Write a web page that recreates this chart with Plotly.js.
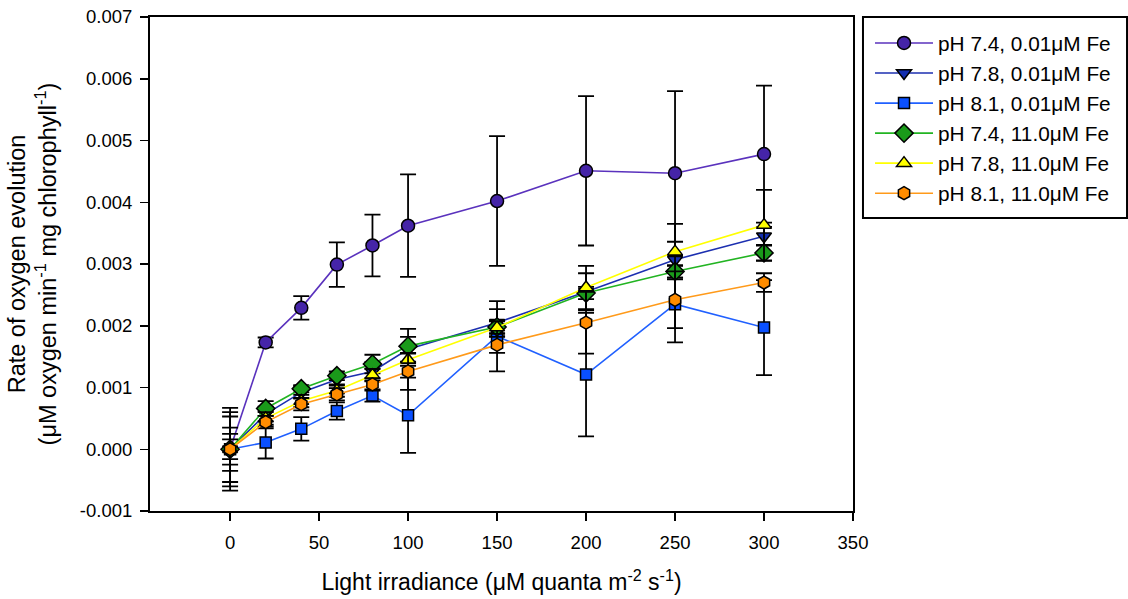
<!DOCTYPE html>
<html>
<head>
<meta charset="utf-8">
<script src="https://cdn.plot.ly/plotly-3.0.1.min.js"></script>
<style>
  html, body { margin: 0; padding: 0; background: #fff; }
  #chart { width: 1128px; height: 599px; }
</style>
</head>
<body>
<div id="chart"></div>
<script>
// Light irradiance levels (µM quanta m-2 s-1)
const irradiance = [0, 20, 40, 60, 80, 100, 150, 200, 250, 300];

// Series labels
const seriesNames = [
  'pH 7.4, 0.01\u03bcM Fe',
  'pH 7.8, 0.01\u03bcM Fe',
  'pH 8.1, 0.01\u03bcM Fe',
  'pH 7.4, 11.0\u03bcM Fe',
  'pH 7.8, 11.0\u03bcM Fe',
  'pH 8.1, 11.0\u03bcM Fe'
];

// Mean rate of oxygen evolution for each series
const ph74_low  = [0.00000, 0.00173, 0.00229, 0.00299, 0.00330, 0.00362, 0.00402, 0.00451, 0.00447, 0.00478];
const ph78_low  = [0.00000, 0.00057, 0.00092, 0.00113, 0.00126, 0.00162, 0.00205, 0.00255, 0.00307, 0.00345];
const ph81_low  = [0.00000, 0.00011, 0.00033, 0.00062, 0.00087, 0.00055, 0.00183, 0.00121, 0.00235, 0.00197];
const ph74_high = [0.00000, 0.00066, 0.00098, 0.00119, 0.00138, 0.00167, 0.00198, 0.00253, 0.00288, 0.00318];
const ph78_high = [0.00000, 0.00050, 0.00078, 0.00095, 0.00120, 0.00145, 0.00197, 0.00262, 0.00320, 0.00363];
const ph81_high = [0.00000, 0.00044, 0.00073, 0.00089, 0.00105, 0.00126, 0.00169, 0.00205, 0.00242, 0.00270];

// Error bar half-lengths for each series
const ph74_low_err  = [0.00067, 0.00008, 0.00019, 0.00036, 0.00050, 0.00083, 0.00105, 0.00121, 0.00133, 0.00111];
const ph78_low_err  = [0.00060, 0.00012, 0.00010, 0.00010, 0.00015, 0.00020, 0.00022, 0.00030, 0.00029, 0.00015];
const ph81_low_err  = [0.00053, 0.00026, 0.00019, 0.00014, 0.00010, 0.00061, 0.00057, 0.00100, 0.00062, 0.00077];
const ph74_high_err = [0.00035, 0.00012, 0.00006, 0.00007, 0.00015, 0.00028, 0.00010, 0.00010, 0.00010, 0.00013];
const ph78_high_err = [0.00025, 0.00010, 0.00010, 0.00010, 0.00010, 0.00010, 0.00010, 0.00035, 0.00045, 0.00057];
const ph81_high_err = [0.00016, 0.00010, 0.00010, 0.00010, 0.00010, 0.00030, 0.00013, 0.00050, 0.00046, 0.00015];

const FONT = 'Arial, "Liberation Sans", sans-serif';

const styles = [
  { line: '#5a32bd', fill: '#4524a8', symbol: 'circle',        size: 13 },
  { line: '#1c2fb0', fill: '#1530b0', symbol: 'triangle-down', size: 13 },
  { line: '#2060ff', fill: '#0a50ff', symbol: 'square',        size: 11 },
  { line: '#22b422', fill: '#1a9a1a', symbol: 'diamond',       size: 14 },
  { line: '#ffff00', fill: '#ffff00', symbol: 'triangle-up',   size: 13 },
  { line: '#ff9a1a', fill: '#ff8c00', symbol: 'hexagon',       size: 13 }
];

const means = [ph74_low, ph78_low, ph81_low, ph74_high, ph78_high, ph81_high];
const errs  = [ph74_low_err, ph78_low_err, ph81_low_err, ph74_high_err, ph78_high_err, ph81_high_err];

const traces = means.map((y, i) => ({
  type: 'scatter',
  mode: 'lines+markers',
  name: seriesNames[i],
  x: irradiance,
  y: y,
  line: { color: styles[i].line, width: 1.6 },
  marker: {
    symbol: styles[i].symbol,
    size: styles[i].size,
    color: styles[i].fill,
    line: { color: '#000', width: 1.5 }
  },
  error_y: {
    type: 'data',
    array: errs[i],
    visible: true,
    color: '#000',
    thickness: 1.8,
    width: 8
  }
}));

const layout = {
  width: 1128,
  height: 599,
  margin: { l: 150, r: 275, t: 17, b: 88 },
  paper_bgcolor: '#fff',
  plot_bgcolor: '#fff',
  font: { family: FONT, color: '#000', size: 18 },
  showlegend: true,
  legend: {
    x: 1.0242, xanchor: 'left',
    y: 0.9879, yanchor: 'top',
    borderwidth: 0,
    bgcolor: 'rgba(0,0,0,0)',
    font: { family: FONT, size: 20.8, color: '#000' },
    itemwidth: 58
  },
  // frame around the legend
  shapes: [{
    type: 'rect', xref: 'paper', yref: 'paper',
    x0: 1.0142, x1: 1.3898, y0: 0.5931, y1: 1,
    line: { color: '#000', width: 2 },
    fillcolor: 'rgba(0,0,0,0)',
    layer: 'below'
  }],
  xaxis: {
    range: [-45, 350],
    tickmode: 'array',
    tickvals: [0, 50, 100, 150, 200, 250, 300, 350],
    ticktext: ['0', '50', '100', '150', '200', '250', '300', '350'],
    ticks: 'outside',
    ticklen: 8,
    tickwidth: 1.5,
    tickcolor: '#000',
    ticklabelstandoff: 6,
    showline: true,
    linecolor: '#000',
    linewidth: 2,
    mirror: true,
    showgrid: false,
    zeroline: false,
    tickfont: { family: FONT, size: 18.5, color: '#000' },
    title: {
      text: 'Light irradiance (\u03bcM quanta m<sup>-2</sup> s<sup>-1</sup>)',
      font: { family: FONT, size: 23, color: '#000' },
      standoff: 22
    }
  },
  yaxis: {
    range: [-0.001, 0.007],
    tickmode: 'array',
    tickvals: [-0.001, 0, 0.001, 0.002, 0.003, 0.004, 0.005, 0.006, 0.007],
    ticktext: ['-0.001', '0.000', '0.001', '0.002', '0.003', '0.004', '0.005', '0.006', '0.007'],
    ticks: 'outside',
    ticklen: 8,
    tickwidth: 1.5,
    tickcolor: '#000',
    ticklabelstandoff: 4,
    showline: true,
    linecolor: '#000',
    linewidth: 2,
    mirror: true,
    showgrid: false,
    zeroline: false,
    tickfont: { family: FONT, size: 18.5, color: '#000' },
    title: {
      text: 'Rate of oxygen evolution<br>(\u03bcM oxygen min<sup>-1</sup> mg chlorophyll<sup>-1</sup>)',
      font: { family: FONT, size: 23.5, color: '#000' },
      standoff: 17
    }
  }
};

Plotly.newPlot('chart', traces, layout, { displayModeBar: false, staticPlot: true });
</script>
</body>
</html>
